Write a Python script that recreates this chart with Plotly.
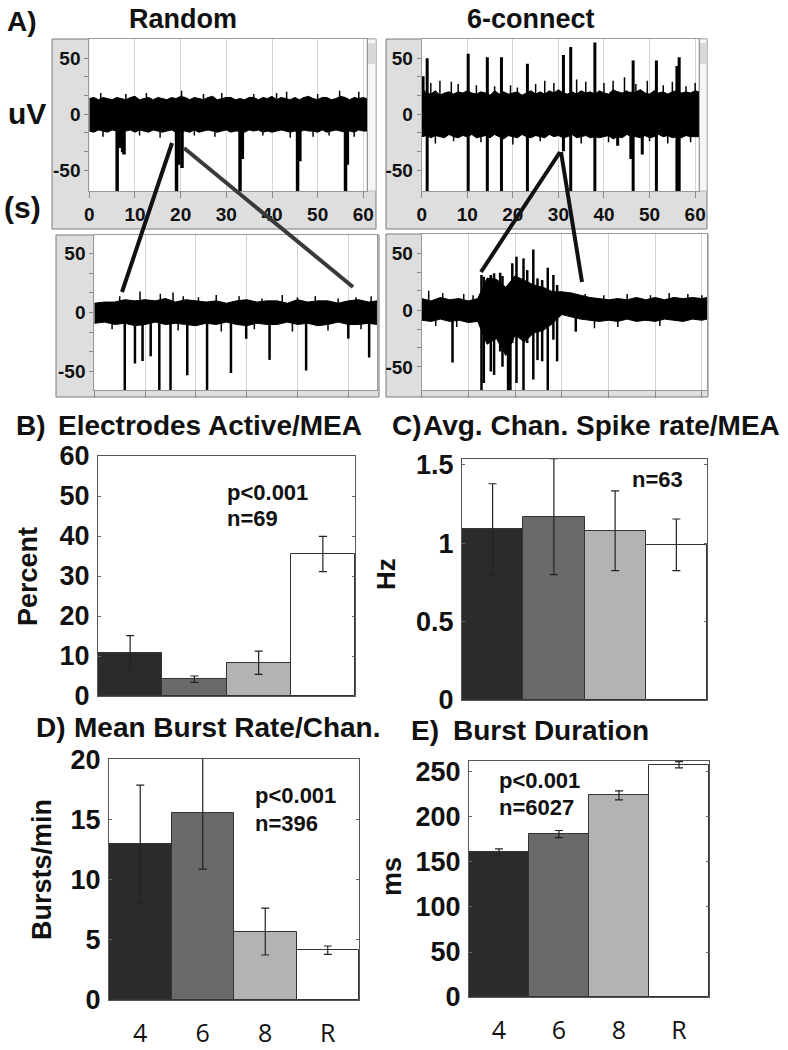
import plotly.graph_objects as go

W, H = 788, 1050
def PX(x): return x / W
def PY(y): return 1 - y / H

# ---------------- DATA ----------------
# Panel A, top-left "Random" trace (time s, uV)
A1_env_t = list(range(61)) + [60.7]
A1_upper = [14,15,13,15,14,13,15,14,13,15,
            16,13,14,15,13,15,14,13,15,14,
            16,15,13,15,14,13,15,16,13,14,
            15,15,13,14,13,15,15,13,15,14,
            16,13,15,14,13,15,13,15,16,14,
            13,15,15,13,14,16,15,13,15,14,
            15,14]
A1_lower = [-15,-16,-14,-15,-16,-14,-15,-16,-15,-14,
            -16,-14,-15,-16,-14,-15,-16,-15,-14,-16,
            -15,-15,-16,-14,-16,-15,-14,-15,-16,-15,
            -14,-16,-15,-15,-16,-14,-15,-14,-16,-15,
            -16,-15,-14,-15,-16,-15,-16,-14,-15,-15,
            -16,-14,-16,-15,-14,-15,-16,-15,-16,-14,
            -15,-15]
A1_hair_t = [2.5, 8, 12.5, 20.2, 25, 29, 36, 41, 43.2, 50, 54.8, 59,
             3, 11, 15.5, 23, 27.5, 38, 44, 49, 52.5, 58]
A1_hair_v = [19, 18, 19, 21, 18, 19, 18, 19, 20, 18, 21, 20,
             -20, -19, -21, -19, -20, -19, -21, -20, -19, -20]
A1_spike_t = [6.1, 6.6, 7.3, 7.6, 19.1, 19.6, 20.3, 33.0, 33.5, 45.6, 46.1, 56.1, 56.5]
A1_spike_hi = [0, 0, 0, 0, 0, 0, 0, 0, 0, 0, 0, 0, 0]
A1_spike_lo = [-70, -30, -34, -36, -70, -45, -48, -70, -40, -70, -42, -70, -45]

# Panel A, top-right "6-connect" trace
A2_env_t = list(range(61)) + [60.8]
A2_upper = [24,19,18,21,17,19,20,18,20,19,
            21,19,18,20,19,17,21,18,20,18,
            19,20,17,19,21,18,20,18,21,19,
            22,19,18,20,18,21,19,20,18,21,
            19,18,22,20,19,21,18,20,22,19,
            18,21,19,20,18,20,21,19,20,19,
            21,20]
A2_lower = [-20,-19,-21,-19,-20,-21,-18,-20,-21,-19,
            -20,-18,-21,-20,-19,-21,-18,-20,-22,-19,
            -20,-21,-18,-20,-21,-19,-20,-21,-18,-20,
            -19,-21,-20,-18,-21,-20,-19,-21,-20,-21,
            -20,-19,-22,-20,-21,-18,-20,-20,-21,-19,
            -21,-20,-18,-20,-19,-21,-20,-21,-19,-20,
            -20,-20]
A2_hair_t = [2, 4, 6.5, 8, 12, 16, 19.5, 21, 25, 27, 29, 34, 36, 40, 42, 44.5, 47, 49.5, 53, 55, 58, 60,
             3, 7, 13, 20, 26, 35, 41, 50, 54, 59]
A2_hair_v = [28, 30, 29, 27, 26, 25, 26, 24, 27, 30, 28, 31, 29, 28, 30, 33, 27, 30, 26, 29, 25, 28,
             -26, -24, -25, -27, -24, -26, -25, -24, -26, -25]
A2_spike_t = [0.3, 1.2, 10.2, 14.4, 17.5, 23.2, 31.1, 32.7, 38.0, 43.0, 45.9, 46.4, 48.4, 51.5, 56.0, 56.5]
A2_spike_hi = [34, 50, 54, 51, 51, 45, 53, 60, 64, 20, 20, 48, 20, 48, 43, 51]
A2_spike_lo = [-20, -70, -70, -70, -70, -70, -33, -70, -70, -28, -40, -70, -36, -70, -70, -70]

# Panel A, bottom-left zoom of "Random"
A3_env_t = [0,0.2,0.4,0.6,0.8,1.0,1.2,1.4,1.6,1.8,2.0,2.2,2.4,2.6,2.8,3.0,
            3.2,3.4,3.6,3.8,4.0,4.2,4.4,4.6,4.8,5.0,5.2,5.4,5.56]
A3_upper = [8,9,9,11,10,11,10,12,9,11,10,9,10,8,10,11,9,10,10,8,11,9,10,10,8,10,11,9,10]
A3_lower = [-9,-8,-10,-9,-11,-10,-8,-10,-9,-10,-11,-9,-10,-8,-10,-11,-9,-10,-10,-8,-10,-9,-11,-10,-8,-10,-10,-9,-10]
A3_hair_t = [0.5, 0.9, 1.3, 1.55, 1.75, 2.05, 2.4, 2.85, 3.3, 3.7, 4.0, 4.35, 4.8, 5.15, 5.45,
             0.35, 1.65, 2.5, 3.15, 3.9, 4.6, 5.25]
A3_hair_v = [14, 18, 16, 17, 14, 13, 15, 14, 12, 15, 13, 14, 12, 13, 14,
             -14, -15, -16, -14, -16, -15, -14]
A3_spike_t = [0.60, 0.80, 0.95, 1.11, 1.28, 1.50, 1.83, 2.22, 2.69, 2.99, 3.45, 4.17, 5.00, 5.41]
A3_spike_lo = [-70, -43, -41, -37, -70, -70, -53, -70, -51, -22, -40, -49, -22, -38]

# Panel A, bottom-right zoom of "6-connect" (burst)
A4_env_t = [0,0.2,0.4,0.6,0.8,1.0,1.2,
            1.4,1.6,1.8,2.0,2.2,2.4,2.6,2.8,3.0,
            3.2,3.4,3.6,3.8,4.0,4.2,4.4,4.6,4.8,5.0,5.2,5.4,5.6,5.8,6.0,6.11]
A4_upper = [10,8,11,9,10,8,10,
            28,27,20,30,26,22,20,16,16,
            15,13,11,10,9,10,9,11,9,11,9,11,10,11,10,11]
A4_lower = [-9,-10,-8,-10,-9,-11,-10,
            -30,-25,-40,-22,-28,-20,-18,-12,-4,
            -6,-8,-9,-10,-9,-10,-8,-10,-9,-10,-8,-9,-10,-8,-9,-8]
A4_hair_t = [0.15, 0.45, 0.9, 1.1, 3.5, 3.9, 4.4, 4.9, 5.3, 5.7, 6.0, 0.3, 0.75, 3.7, 4.2, 5.1]
A4_hair_v = [17, 15, 14, 13, 14, 13, 14, 13, 15, 14, 13, -14, -15, -16, -15, -14]
A4_spike_t = [0.66, 1.28, 1.33, 1.48, 1.55, 1.68, 1.73, 1.85, 1.87, 1.90, 1.94,
              2.03, 2.18, 2.26, 2.39, 2.48, 2.58, 2.70, 2.82, 2.90, 3.30]
A4_spike_hi = [0, 30.7, 29.2, 30.7, 32.2, 32.7, 29.8, 5, 5, 5, 41,
               46.8, 45.3, 35, 53.2, 27.8, 26.3, 37.1, 30.7, 21.9, 0]
A4_spike_lo = [-46, -72, -64, -54, -57, -36.5, -49.7, -72, -72, -72, -29,
               -64, -72, -29, -61, -44, -45, -72, -26, -45, -19]

# Bar panels
CATS = ["4", "6", "8", "R"]
BAR_COLORS = ["#2b2b2b", "#6a6a6a", "#b3b3b3", "#ffffff"]
B_vals = [10.8, 4.2, 8.3, 35.5]
B_err = [4.3, 0.8, 2.9, 4.4]
C_vals = [1.09, 1.17, 1.08, 0.99]
C_err = [0.29, 0.37, 0.255, 0.165]
D_vals = [13.0, 15.6, 5.7, 4.15]
D_err = [4.9, 4.7, 1.95, 0.35]
E_vals = [161, 181, 224, 258]
E_err = [3.5, 4, 5, 3.5]

A_XTICKS = [0, 10, 20, 30, 40, 50, 60]
A_YTICKS = [-50, -33.3, -16.7, 0, 16.7, 33.3, 50]
A_YTEXT = ["-50", "", "", "0", "", "", "50"]

# ---------------- FIGURE ----------------
fig = go.Figure()

def band(t, up, lo, ax):
    xs = list(t) + list(t)[::-1]
    ys = list(up) + list(lo)[::-1]
    fig.add_trace(go.Scatter(x=xs, y=ys, fill="toself", fillcolor="#000",
                             mode="lines", line=dict(color="#000", width=1),
                             xaxis="x" + ax, yaxis="y" + ax, hoverinfo="skip",
                             showlegend=False))

def spikes(t, hi, lo, ax, w):
    xs, ys = [], []
    for a, b, c in zip(t, hi, lo):
        xs += [a, a, None]
        ys += [b, c, None]
    fig.add_trace(go.Scatter(x=xs, y=ys, mode="lines",
                             line=dict(color="#000", width=w),
                             xaxis="x" + ax, yaxis="y" + ax, hoverinfo="skip",
                             showlegend=False))

band(A1_env_t, A1_upper, A1_lower, "")
spikes(A1_hair_t, [0] * len(A1_hair_t), A1_hair_v, "", 1.5)
spikes(A1_spike_t, A1_spike_hi, A1_spike_lo, "", 3.5)
band(A2_env_t, A2_upper, A2_lower, "2")
spikes(A2_hair_t, [0] * len(A2_hair_t), A2_hair_v, "2", 1.5)
spikes(A2_spike_t, A2_spike_hi, A2_spike_lo, "2", 3)
band(A3_env_t, A3_upper, A3_lower, "3")
spikes(A3_hair_t, [0] * len(A3_hair_t), A3_hair_v, "3", 1.5)
spikes(A3_spike_t, [0] * len(A3_spike_t), A3_spike_lo, "3", 2.5)
band(A4_env_t, A4_upper, A4_lower, "4")
spikes(A4_hair_t, [0] * len(A4_hair_t), A4_hair_v, "4", 1.5)
spikes(A4_spike_t, A4_spike_hi, A4_spike_lo, "4", 2.5)

for vals, errs, ax in [(B_vals, B_err, "5"), (C_vals, C_err, "6"),
                       (D_vals, D_err, "7"), (E_vals, E_err, "8")]:
    fig.add_trace(go.Bar(x=CATS, y=vals, width=1,
                         marker=dict(color=BAR_COLORS, line=dict(color="#333", width=1)),
                         error_y=dict(type="data", array=errs, color="#222",
                                      thickness=1.2, width=4),
                         xaxis="x" + ax, yaxis="y" + ax, showlegend=False))

BF = "Liberation Sans, Arial, sans-serif"

layout = dict(width=W, height=H, autosize=False,
              margin=dict(l=0, r=0, t=0, b=0, pad=0, autoexpand=False),
              paper_bgcolor="white", plot_bgcolor="rgba(0,0,0,0)",
              showlegend=False, bargap=0)

# A panels: (x px domain, y px domain, xrange, yrange, show x labels)
A_axes = {
    "": ((89.3, 367), (39, 191), [0, 60.8], [-68.5, 67.2], True),
    "2": ((421.7, 699), (39, 191), [0, 60.85], [-68.5, 67.2], True),
    "3": ((94.3, 377), (235, 390), [0, 5.565], [-65.5, 65.8], False),
    "4": ((421.7, 707), (234, 390), [0, 6.11], [-70.2, 66.7], False),
}
for k, (xd, yd, xr, yr, lab) in A_axes.items():
    xa = dict(domain=[PX(xd[0]), PX(xd[1])], range=xr, anchor="y" + k,
              showgrid=True, gridcolor="#d4d4d4", gridwidth=1, zeroline=False,
              showline=True, linecolor="#999", linewidth=1, mirror=True,
              ticks="outside", ticklen=6 if lab else 7, tickcolor="#888",
              showticklabels=lab,
              tickfont=dict(family=BF, size=19, color="#111", weight="bold"))
    if lab:
        xa.update(tickvals=A_XTICKS)
    else:
        xa.update(dtick=1, tick0=0)
    ya = dict(domain=[PY(yd[1]), PY(yd[0])], range=yr, anchor="x" + k,
              showgrid=False, zeroline=False,
              showline=True, linecolor="#999", linewidth=1, mirror=True,
              ticks="outside", ticklen=4, tickcolor="#888",
              tickvals=A_YTICKS, ticktext=A_YTEXT,
              tickfont=dict(family=BF, size=19, color="#111", weight="bold"))
    layout["xaxis" + k] = xa
    layout["yaxis" + k] = ya

# Bar panels
bar_axes = {
    "5": ((98, 355), (456, 696), [0, 60], [0, 10, 20, 30, 40, 50, 60], None, False),
    "6": ((462, 707), (459, 700), [0, 1.538], [0, 0.5, 1, 1.5], ["0", "0.5", "1", "1.5"], False),
    "7": ((109, 359), (759, 1000), [0, 20.08], [0, 5, 10, 15, 20], None, True),
    "8": ((469, 709), (761, 997), [0, 262.2], [0, 50, 100, 150, 200, 250], None, True),
}
for k, (xd, yd, yr, tv, tt, lab) in bar_axes.items():
    layout["xaxis" + k] = dict(domain=[PX(xd[0]), PX(xd[1])], anchor="y" + k,
                               type="category", range=[-0.5, 3.5],
                               showline=True, linecolor="#555", linewidth=1, mirror=True,
                               ticks="", showgrid=False, zeroline=False,
                               showticklabels=lab, ticklabelstandoff=11,
                               tickfont=dict(family="Open Sans, sans-serif", size=25, color="#111"))
    ya = dict(domain=[PY(yd[1]), PY(yd[0])], anchor="x" + k, range=yr,
              tickvals=tv, showline=True, linecolor="#555", linewidth=1, mirror="ticks",
              ticks="inside", ticklen=3, tickcolor="#666", showgrid=False, zeroline=False,
              ticklabelstandoff=2,
              tickfont=dict(family=BF, size=27, color="#111", weight="bold"))
    if tt:
        ya["ticktext"] = tt
    layout["yaxis" + k] = ya

# Frames for A panels (gray chrome, then white plot area)
shapes = []
frames = [((52, 376), (39, 229), (89.3, 367)),
          ((386, 707), (39, 229), (421.7, 699)),
          ((56, 379), (235, 397), (94.3, 377)),
          ((386, 708), (234, 397), (421.7, 707))]
plot_y = [(39, 191), (39, 191), (235, 390), (234, 390)]
for (fx, fy, pxr), pyr in zip(frames, plot_y):
    shapes.append(dict(type="rect", xref="paper", yref="paper", layer="below",
                       x0=PX(fx[0]), x1=PX(fx[1]), y0=PY(fy[1]), y1=PY(fy[0]),
                       fillcolor="#dedede", line=dict(color="#7a7a7a", width=1)))
    shapes.append(dict(type="rect", xref="paper", yref="paper", layer="below",
                       x0=PX(pxr[0]), x1=PX(pxr[1]), y0=PY(pyr[1]), y1=PY(pyr[0]),
                       fillcolor="#ffffff", line=dict(width=0)))
# scroll strips at right of top panels
for sx in [(367, 376), (699, 707)]:
    shapes.append(dict(type="rect", xref="paper", yref="paper", layer="below",
                       x0=PX(sx[0]), x1=PX(sx[1]), y0=PY(191), y1=PY(39),
                       fillcolor="#f6f6f6", line=dict(color="#bbb", width=1)))
    shapes.append(dict(type="rect", xref="paper", yref="paper", layer="below",
                       x0=PX(sx[0] + 1), x1=PX(sx[1] - 1), y0=PY(64), y1=PY(43),
                       fillcolor="#d8d8d8", line=dict(width=0)))
# zoom connector lines
for (x0, y0, x1, y1, c) in [(172, 143, 122, 292, "#111"), (184, 148, 353, 287, "#3a3a3a"),
                            (560, 152, 481, 272, "#111"), (561, 152, 582, 282, "#111")]:
    shapes.append(dict(type="line", xref="paper", yref="paper", layer="above",
                       x0=PX(x0), y0=PY(y0), x1=PX(x1), y1=PY(y1),
                       line=dict(color=c, width=4)))
layout["shapes"] = shapes

ann = []
def T(text, x, y, size, xanchor="left", bold=True, angle=0, family=BF):
    ann.append(dict(text=("<b>%s</b>" % text) if bold else text, x=PX(x), y=PY(y),
                    xref="paper", yref="paper", xanchor=xanchor, yanchor="middle",
                    showarrow=False, textangle=angle,
                    font=dict(family=family, size=size, color="#111")))

T("A)", 5, 21, 28)
T("Random", 183, 19, 27, "center")
T("6-connect", 531, 19, 27, "center")
T("uV", 27, 114, 30, "center")
T("(s)", 22, 207, 30, "center")
T("B)", 14, 425, 28)
T("Electrodes Active/MEA", 56, 425, 28)
T("C)", 390, 425, 28)
T("Avg. Chan. Spike rate/MEA", 421, 425, 28)
T("D)", 34, 727, 28)
T("Mean Burst Rate/Chan.", 72, 727, 28)
T("E)", 409, 730, 28)
T("Burst Duration", 451, 730, 28)
T("Percent", 28, 577, 27, "center", angle=-90)
T("Hz", 386, 574, 26, "center", angle=-90)
T("Bursts/min", 42, 870, 27, "center", angle=-90)
T("ms", 392, 877, 27, "center", angle=-90)
T("p<0.001", 225, 492, 22)
T("n=69", 225, 518, 22)
T("n=63", 630, 480, 22)
T("p<0.001", 253, 795, 22)
T("n=396", 253, 823, 22)
T("p<0.001", 497, 780, 22)
T("n=6027", 497, 807, 22)
layout["annotations"] = ann

fig.update_layout(**layout)
fig.write_html("out.html", config={"displayModeBar": False},
               post_script="document.body.style.margin='0';document.body.style.overflow='hidden';")
